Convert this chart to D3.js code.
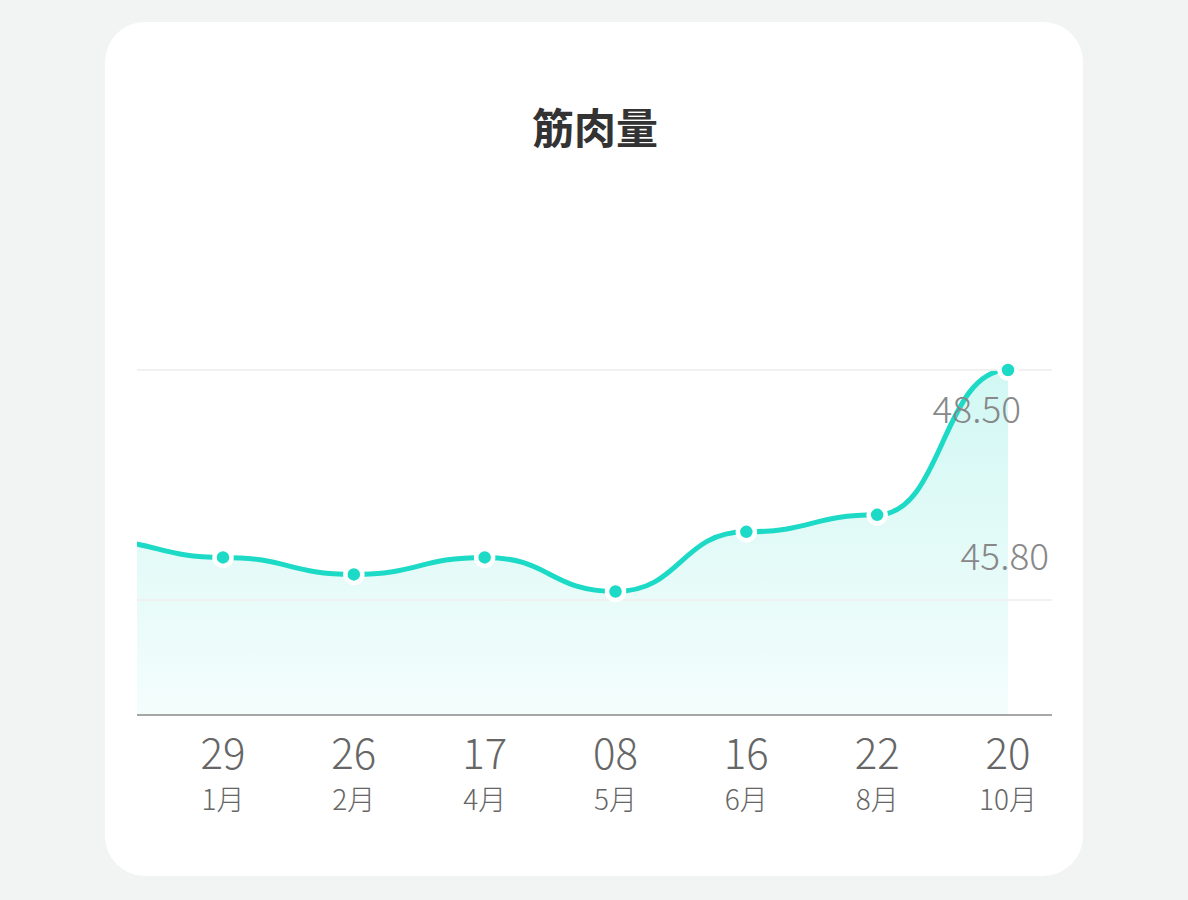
<!DOCTYPE html>
<html>
<head>
<meta charset="utf-8">
<script src="https://cdn.jsdelivr.net/npm/d3@7"></script>
<style>
  body { margin: 0; background: #f2f4f3; }
  svg { display: block; font-family: "Noto Sans CJK SC", "Noto Sans", sans-serif; }
</style>
</head>
<body>
<svg id="chart"></svg>
<script>
// data (first point sits outside the visible plot)
const days = ["", "29", "26", "17", "08", "16", "22", "20"];
const months = ["", "1月", "2月", "4月", "5月", "6月", "8月", "10月"];
const values = [46.5, 46.3, 46.1, 46.3, 45.9, 46.6, 46.8, 48.5];
const markedValues = [48.5, 45.8];
const title = "筋肉量";

const width = 1188;
const height = 900;
const left = 137, right = 1052, bottom = 715;
const teal = "#1cdac6";

const svg = d3.select("#chart").attr("width", width).attr("height", height);

// card
svg.append("rect")
  .attr("x", 105).attr("y", 22)
  .attr("width", 978).attr("height", 854)
  .attr("rx", 40)
  .attr("fill", "#fff");

svg.append("text")
  .attr("x", 595).attr("y", 144)
  .attr("text-anchor", "middle")
  .attr("font-size", 42)
  .attr("font-weight", "bold")
  .attr("fill", "#333")
  .text(title);

const x = d3.scaleLinear().domain([1, 7]).range([223, 1008]);
const y = d3.scaleLinear().domain([45.8, 48.5]).range([600, 370]);

const defs = svg.append("defs");
defs.append("clipPath").attr("id", "plot")
  .append("rect")
  .attr("x", left).attr("y", 300)
  .attr("width", right - left).attr("height", bottom - 300);

const grad = defs.append("linearGradient")
  .attr("id", "fill")
  .attr("gradientUnits", "userSpaceOnUse")
  .attr("x1", 0).attr("x2", 0)
  .attr("y1", 370).attr("y2", bottom);
grad.append("stop").attr("offset", 0).attr("stop-color", teal).attr("stop-opacity", 0.2);
grad.append("stop").attr("offset", 1).attr("stop-color", teal).attr("stop-opacity", 0.05);

const plot = svg.append("g").attr("clip-path", "url(#plot)");

const area = d3.area()
  .x((d, i) => x(i))
  .y0(bottom)
  .y1(d => y(d))
  .curve(d3.curveBumpX);

const line = d3.line()
  .x((d, i) => x(i))
  .y(d => y(d))
  .curve(d3.curveBumpX);

plot.append("path")
  .datum(values)
  .attr("d", area)
  .attr("fill", "url(#fill)");

// grid lines
svg.append("g")
  .selectAll("line")
  .data(markedValues)
  .join("line")
  .attr("x1", left).attr("x2", right)
  .attr("y1", d => y(d)).attr("y2", d => y(d))
  .attr("stroke", "#f0f0f0")
  .attr("stroke-opacity", 0.9)
  .attr("stroke-width", 2);

plot.append("path")
  .datum(values)
  .attr("d", line)
  .attr("fill", "none")
  .attr("stroke", teal)
  .attr("stroke-width", 5);

// axis line
svg.append("line")
  .attr("x1", left).attr("x2", right)
  .attr("y1", bottom).attr("y2", bottom)
  .attr("stroke", "#8a8a8a")
  .attr("stroke-width", 1.5);

// value labels
svg.append("text")
  .attr("x", 1021).attr("y", y(48.5) + 53)
  .attr("text-anchor", "end")
  .attr("font-size", 37).attr("font-weight", 300)
  .attr("fill", "#888")
  .text(markedValues[0].toFixed(2));

svg.append("text")
  .attr("x", 1049).attr("y", y(45.8) - 30)
  .attr("text-anchor", "end")
  .attr("font-size", 37).attr("font-weight", 300)
  .attr("fill", "#888")
  .text(markedValues[1].toFixed(2));

// points
const shown = values.map((v, i) => ({ v, i })).filter(d => d.i > 0);
svg.append("g")
  .selectAll("circle")
  .data(shown)
  .join("circle")
  .attr("cx", d => x(d.i))
  .attr("cy", d => y(d.v))
  .attr("r", 8.5)
  .attr("fill", teal)
  .attr("stroke", "#fff")
  .attr("stroke-width", 4.5);

// x labels
const labels = svg.append("g")
  .selectAll("g")
  .data(shown)
  .join("g")
  .attr("transform", d => `translate(${x(d.i)},0)`);

labels.append("text")
  .attr("y", 769)
  .attr("text-anchor", "middle")
  .attr("font-size", 42).attr("font-weight", 300)
  .attr("fill", "#666")
  .text(d => days[d.i]);

labels.append("text")
  .attr("y", 810)
  .attr("text-anchor", "middle")
  .attr("font-size", 28).attr("font-weight", 300)
  .attr("fill", "#666")
  .text(d => months[d.i]);
</script>
</body>
</html>
